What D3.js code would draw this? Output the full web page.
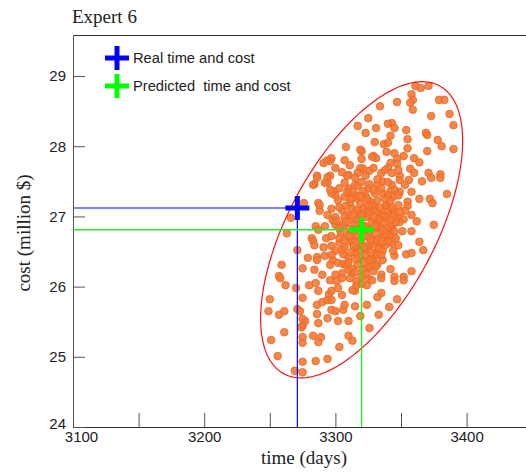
<!DOCTYPE html>
<html><head><meta charset="utf-8">
<script src="https://cdn.jsdelivr.net/npm/d3@7"></script>
<style>body{margin:0;background:#fff}svg{display:block}</style>
</head><body>
<svg id="c" width="526" height="475"></svg>
<script>
const titleText = "Expert 6";
const xLabel = "time (days)";
const yLabel = "cost (million $)";
const xDomain = [3100, 3450];
const yDomain = [24, 29.585];
const xTicks = [3100, 3150, 3200, 3250, 3300, 3350, 3400];
const xTickLabels = [3100, 3200, 3300, 3400];
const yTicks = [24, 25, 26, 27, 28, 29];
const legendLabels = ["Real time and cost", "Predicted  time and cost"];
const realPoint = [3271, 27.12];
const predictedPoint = [3320, 26.81];
const ellipseCenter = [3320, 26.81];
const ellipseHalfWidth = 77;   // days
const ellipseHalfHeight = 2.11; // million $
const ellipseCorr = 0.6;
const simPoints = [
[3361,28.86],[3365,28.83],[3371,28.86],[3347,28.63],[3358,28.74],[3359,28.66],[3357,28.62],[3379,28.66],[3383,28.66],[3334,28.57],
[3359,28.52],[3325,28.40],[3343,28.33],[3340,28.32],[3345,28.26],[3373,28.43],[3387,28.46],[3390,28.30],[3331,28.26],[3354,28.23],
[3369,28.19],[3370,28.16],[3323,28.19],[3342,28.15],[3330,28.06],[3355,28.10],[3378,28.09],[3381,28.00],[3390,27.96],[3337,28.03],
[3340,28.05],[3339,27.92],[3355,27.97],[3370,27.93],[3320,27.93],[3329,27.86],[3331,27.83],[3345,27.90],[3352,27.86],[3347,27.82],
[3360,27.83],[3364,27.77],[3320,27.82],[3342,27.76],[3347,27.75],[3340,27.69],[3326,27.65],[3329,27.69],[3321,27.68],[3335,27.62],
[3357,27.68],[3360,27.62],[3371,27.62],[3380,27.60],[3349,27.58],[3343,27.62],
[3317,28.29],[3308,27.99],[3297,27.83],[3296,27.79],[3291,27.76],[3319,27.69],[3286,27.58],[3296,27.58],[3310,27.59],[3317,27.62],
[3284,27.46],[3294,27.48],[3299,27.36],[3300,27.30],[3310,27.40],[3315,27.45],[3316,27.30],[3310,27.32],[3287,27.19],[3288,27.08],
[3297,27.11],[3298,26.95],[3300,26.99],[3300,26.88],[3276,27.19],[3266,26.98],[3263,26.76],[3282,26.69],[3292,26.86],[3285,26.86],
[3287,26.81],[3297,26.72],[3283,26.65],[3284,26.59],[3291,26.56],[3297,26.58],[3300,26.51],[3271,26.52],[3279,26.41],[3286,26.42],
[3292,26.44],[3286,26.38],[3298,26.38],[3302,26.34],[3259,26.31],[3275,26.26],[3284,26.24],[3296,26.31],[3306,26.32],[3310,26.24],
[3290,26.17],[3257,26.15],[3300,26.17],[3305,26.19],[3313,26.19],
[3288,27.16],[3286,27.55],[3294,27.56],[3309,27.58],[3297,27.33],[3294,27.80],[3319,27.95],[3328,27.85],[3292,27.48],[3283,27.45],
[3336,27.50],[3349,27.52],[3356,27.52],[3366,27.50],[3373,27.55],[3380,27.55],[3385,27.32],[3358,27.35],[3364,27.25],[3372,27.25],
[3374,27.19],[3349,27.35],[3342,27.36],[3336,27.33],[3344,27.28],[3355,27.21],[3355,27.15],[3358,27.02],[3352,26.96],[3362,26.93],
[3375,26.88],[3351,26.79],[3358,26.79],[3349,26.92],[3344,26.89],[3344,27.08],[3339,26.98],[3342,26.79],[3336,26.72],[3340,26.69],
[3343,26.62],[3348,26.59],[3364,26.64],[3367,26.52],[3354,26.46],[3358,26.48],[3345,26.44],[3344,26.51],[3336,26.51],[3331,26.49],
[3336,26.38],[3329,26.42],[3326,26.36],[3332,26.32],[3342,26.25],[3335,26.17],[3324,26.26],[3358,26.22],[3352,26.14],[3345,26.14],
[3332,26.93],[3334,27.05],[3330,27.16],[3326,27.22],[3329,27.09],[3324,27.08],[3323,27.29],[3325,27.40],[3332,27.45],[3343,27.45],
[3339,27.16],[3334,26.83],[3330,26.66],[3326,26.59],[3324,26.52],[3334,26.58],[3347,26.99],[3353,27.08],
[3258,26.12],[3262,26.02],[3270,25.98],[3280,26.02],[3285,26.05],[3287,25.94],[3275,25.84],[3250,25.82],[3249,25.65],[3257,25.60],
[3261,25.65],[3271,25.68],[3273,25.65],[3277,25.51],[3275,25.44],[3274,25.42],[3287,25.48],[3286,25.61],[3286,25.74],[3290,25.78],
[3294,25.81],[3295,25.89],[3297,25.94],[3302,25.98],[3305,25.88],[3297,25.81],[3297,25.67],[3294,25.55],[3300,25.65],[3302,25.51],
[3306,25.67],[3307,25.74],[3310,25.51],[3315,25.72],[3315,25.94],[3313,25.95],[3316,26.02],[3261,25.35],[3251,25.24],[3275,25.28],
[3275,25.20],[3283,25.30],[3289,25.28],[3287,25.21],[3310,25.30],[3313,25.23],[3303,25.14],[3256,25.01],[3275,24.93],[3285,24.94],
[3294,24.97],[3269,24.80],[3275,24.78],[3305,26.12],[3301,26.08],[3296,26.09],[3275,25.54],
[3324,26.02],[3325,26.12],[3335,26.12],[3345,26.08],[3352,26.09],[3335,25.91],[3332,25.85],[3347,25.82],[3324,25.74],[3341,25.71],
[3333,25.60],[3326,25.41],[3320,26.04],[3319,25.58],
[3303,27.40],[3307,27.48],[3313,27.35],[3317,27.43],[3321,27.36],[3326,27.46],[3330,27.33],[3335,27.40],[3340,27.30],[3345,27.38],
[3302,27.23],[3307,27.28],[3311,27.19],[3316,27.26],[3319,27.18],[3324,27.25],[3328,27.16],[3332,27.23],[3338,27.15],[3342,27.22],[3348,27.16],
[3305,27.09],[3310,27.03],[3313,27.11],[3318,27.05],[3322,27.12],[3326,27.02],[3331,27.08],[3335,27.01],[3340,27.06],[3345,27.02],
[3301,26.93],[3306,26.88],[3310,26.95],[3315,26.89],[3319,26.96],[3323,26.86],[3328,26.93],[3332,26.86],[3337,26.92],[3342,26.85],[3346,26.92],
[3304,26.78],[3309,26.72],[3313,26.79],[3317,26.71],[3322,26.78],[3326,26.69],[3330,26.76],[3335,26.69],[3339,26.75],[3343,26.71],
[3303,26.62],[3307,26.56],[3312,26.64],[3316,26.55],[3320,26.62],[3325,26.54],[3329,26.61],[3333,26.54],[3338,26.59],
[3306,26.46],[3310,26.41],[3315,26.48],[3319,26.41],[3323,26.46],[3328,26.39],[3332,26.45],
[3308,26.31],[3313,26.25],[3317,26.32],[3321,26.24],[3326,26.29],[3329,26.22],
[3311,26.12],[3316,26.08],[3320,26.15],[3328,26.09],
[3300,27.69],[3305,27.63],[3311,27.73],[3315,27.55],[3323,27.58],[3332,27.53],[3338,27.66],[3348,27.66],[3353,27.45],[3307,27.80],
[3308,27.15],[3316,26.96],[3321,26.86],[3326,26.81],[3313,26.66],[3319,26.52],[3331,26.66],[3339,26.83],[3310,26.83],[3303,26.69],
[3316,27.09],[3323,26.99],[3333,26.96],[3328,26.83],[3312,26.49],[3322,26.35],
[3309,27.35],[3319,27.29],[3329,27.38],[3338,27.25],[3303,27.13],[3312,27.25],[3325,27.15],[3334,27.12],[3343,27.12],
[3307,26.99],[3313,27.01],[3320,27.02],[3329,26.99],[3338,27.01],[3342,26.95],
[3303,26.83],[3308,26.92],[3316,26.82],[3330,26.86],[3336,26.81],[3345,26.79],
[3307,26.66],[3311,26.72],[3319,26.66],[3323,26.72],[3327,26.66],[3336,26.64],[3341,26.64],
[3305,26.52],[3314,26.58],[3322,26.56],[3327,26.49],[3335,26.45],
[3310,26.35],[3316,26.39],[3326,26.38],[3331,26.29],[3315,26.21],[3323,26.18],
[3320,27.49],[3340,27.49],[3348,27.30],[3349,27.06],[3346,26.69],[3296,27.38],[3294,27.02],[3293,26.69],[3297,26.45]
];

const svg = d3.select("#c");
const plotLeft = 73, plotTop = 35, plotBottom = 427;
const x = d3.scaleLinear().domain(xDomain).range([plotLeft, plotLeft + (xDomain[1]-xDomain[0]) * 1.312]);
const y = d3.scaleLinear().domain(yDomain).range([plotBottom, plotTop]);

// title
svg.append("text").attr("x", 72).attr("y", 23)
  .attr("font-family", "Liberation Serif, Times New Roman, serif").attr("font-size", 19)
  .attr("fill", "#222").text(titleText);

// frame
svg.append("line").attr("x1", plotLeft).attr("x2", 526).attr("y1", plotTop + 0.5).attr("y2", plotTop + 0.5).attr("stroke", "#333");

// axes
const xAxis = d3.axisBottom(x).tickValues(xTicks).tickSizeInner(-14).tickSizeOuter(0)
  .tickFormat(d => xTickLabels.includes(d) ? d : "");
const gx = svg.append("g").attr("transform", `translate(0,${plotBottom})`).call(xAxis);
gx.select(".domain").attr("stroke", "#333").attr("d", `M${plotLeft},0.5H526`);
gx.selectAll(".tick line").attr("stroke", "#555");
gx.selectAll(".tick text").attr("font-family", "Liberation Sans, Arial, sans-serif").attr("font-size", 15)
  .attr("fill", "#222").attr("y", 4).attr("dy", "0.71em")
  .attr("dx", d => d === xDomain[0] ? 8 : 0);

const yAxis = d3.axisLeft(y).tickValues(yTicks).tickSizeInner(-12).tickSizeOuter(0).tickFormat(d3.format("d"));
const gy = svg.append("g").attr("transform", `translate(${plotLeft},0)`).call(yAxis);
gy.select(".domain").attr("stroke", "#555").attr("d", `M0.5,${plotTop}V${plotBottom}`);
gy.selectAll(".tick line").attr("stroke", "#555");
gy.selectAll(".tick text").attr("font-family", "Liberation Sans, Arial, sans-serif").attr("font-size", 15)
  .attr("fill", "#222").attr("x", -7).attr("dy", d => d === yDomain[0] ? "0.1em" : "0.32em");

// axis labels
svg.append("text").attr("x", 304).attr("y", 464).attr("text-anchor", "middle")
  .attr("font-family", "Liberation Serif, Times New Roman, serif").attr("font-size", 19).attr("fill", "#222").text(xLabel);
svg.append("text").attr("transform", "translate(30,233) rotate(-90)").attr("text-anchor", "middle")
  .attr("font-family", "Liberation Serif, Times New Roman, serif").attr("font-size", 19).attr("fill", "#222").text(yLabel);

// scatter
svg.append("g").selectAll("circle").data(simPoints).join("circle")
  .attr("cx", d => x(d[0])).attr("cy", d => y(d[1])).attr("r", 3.8)
  .attr("fill", "#f37a38").attr("fill-opacity", 0.9)
  .attr("stroke", "#ee6a22").attr("stroke-width", 0.9);

// ellipse
const angles = d3.range(0, 2 * Math.PI, Math.PI / 120);
const ell = angles.map(t => [
  ellipseCenter[0] + ellipseHalfWidth * Math.cos(t),
  ellipseCenter[1] + ellipseHalfHeight * (ellipseCorr * Math.cos(t) + Math.sqrt(1 - ellipseCorr * ellipseCorr) * Math.sin(t))
]);
svg.append("path").attr("d", d3.line().x(d => x(d[0])).y(d => y(d[1])).curve(d3.curveLinearClosed)(ell))
  .attr("fill", "none").attr("stroke", "#ff1010").attr("stroke-width", 1.2);

// guide lines
function guides(p, hColor, vColor) {
  svg.append("line").attr("x1", plotLeft).attr("x2", x(p[0])).attr("y1", y(p[1])).attr("y2", y(p[1]))
    .attr("stroke", hColor).attr("stroke-width", 1.3);
  svg.append("line").attr("x1", x(p[0])).attr("x2", x(p[0])).attr("y1", y(p[1])).attr("y2", plotBottom)
    .attr("stroke", vColor).attr("stroke-width", 1.2);
}
guides(realPoint, "#5a5aff", "#0000ff");
guides(predictedPoint, "#22ee22", "#00ff00");

function plus(cx, cy, color, size) {
  svg.append("path").attr("d", `M${cx - size},${cy}H${cx + size}M${cx},${cy - size}V${cy + size}`)
    .attr("stroke", color).attr("stroke-width", 5).attr("fill", "none");
}
plus(x(realPoint[0]), y(realPoint[1]), "#0000ff", 12);
plus(x(predictedPoint[0]), y(predictedPoint[1]), "#00ff00", 12);

// legend
plus(117, 58, "#0000ff", 12);
plus(117, 86, "#00ff00", 12);
svg.append("text").attr("x", 133).attr("y", 63).attr("font-family", "Liberation Sans, Arial, sans-serif")
  .attr("font-size", 14.7).attr("fill", "#222").text(legendLabels[0]);
svg.append("text").attr("x", 133).attr("y", 91).attr("font-family", "Liberation Sans, Arial, sans-serif")
  .attr("font-size", 14.7).attr("fill", "#222").style("white-space", "pre").text(legendLabels[1]);
</script>
</body></html>
